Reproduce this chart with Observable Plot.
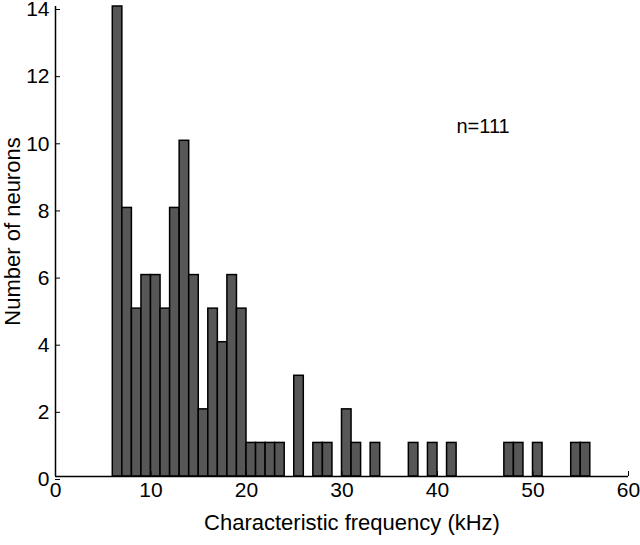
<!DOCTYPE html>
<html>
<head>
<meta charset="utf-8">
<script src="https://cdn.jsdelivr.net/npm/d3@7"></script>
<script src="https://cdn.jsdelivr.net/npm/@observablehq/plot@0.6"></script>
<style>
  html, body { margin: 0; padding: 0; background: #fff; }
  #chart svg { display: block; }
</style>
</head>
<body>
<div id="chart"></div>
<script>
// Histogram bins (kHz, 1 kHz wide) and neuron counts
const binStarts = [6, 7, 8, 9, 10, 11, 12, 13, 14, 15, 16, 17, 18, 19, 20, 21, 22, 23, 25, 27, 28, 30, 31, 33, 37, 39, 41, 47, 48, 50, 54, 55];
const counts    = [14, 8, 5, 6, 6, 5, 8, 10, 6, 2, 5, 4, 6, 5, 1, 1, 1, 1, 3, 1, 1, 2, 1, 1, 1, 1, 1, 1, 1, 1, 1, 1];
const binWidth = 1;
const xTicks = [0, 10, 20, 30, 40, 50, 60];
const yTicks = [0, 2, 4, 6, 8, 10, 12, 14];
const xLabel = "Characteristic frequency (kHz)";
const yLabel = "Number of neurons";

const bins = binStarts.map((s, i) => ({x1: s, x2: s + binWidth, count: counts[i]}));
const n = d3.sum(counts);

const chart = Plot.plot({
  width: 640,
  height: 545,
  marginLeft: 55,
  marginRight: 12,
  marginTop: 6,
  marginBottom: 69,
  style: {fontFamily: "Liberation Sans, Arial, sans-serif", fontSize: "21px", color: "#000", background: "#fff"},
  x: {domain: [0, 60], ticks: xTicks, label: null},
  y: {domain: [0, 14], ticks: yTicks, label: null},
  marks: [
    Plot.rectY(bins, {x1: "x1", x2: "x2", y: "count", fill: "#575757", stroke: "#000", strokeWidth: 1.5, inset: 0}),
    Plot.ruleX([0], {stroke: "#000", strokeWidth: 1.5}),
    Plot.ruleY([0], {stroke: "#000", strokeWidth: 1.5}),
    Plot.axisX({ticks: xTicks, tickSize: -5, tickPadding: 11, stroke: "#000", fontSize: 21, label: null}),
    Plot.axisY({ticks: yTicks, tickSize: -5, tickPadding: 11, dy: 3, stroke: "#000", fontSize: 21, label: null}),
    Plot.text([xLabel], {frameAnchor: "bottom", dx: 10, dy: 53, fontSize: 22, fill: "#000"}),
    Plot.text([yLabel], {frameAnchor: "left", textAnchor: "middle", dx: -43, dy: -10, rotate: -90, fontSize: 22, fill: "#000"}),
    Plot.text([`n=${n}`], {frameAnchor: "top-left", dx: 401, dy: 112, textAnchor: "start", fontSize: 20, fill: "#000"})
  ]
});
document.getElementById("chart").appendChild(chart);
</script>
</body>
</html>
